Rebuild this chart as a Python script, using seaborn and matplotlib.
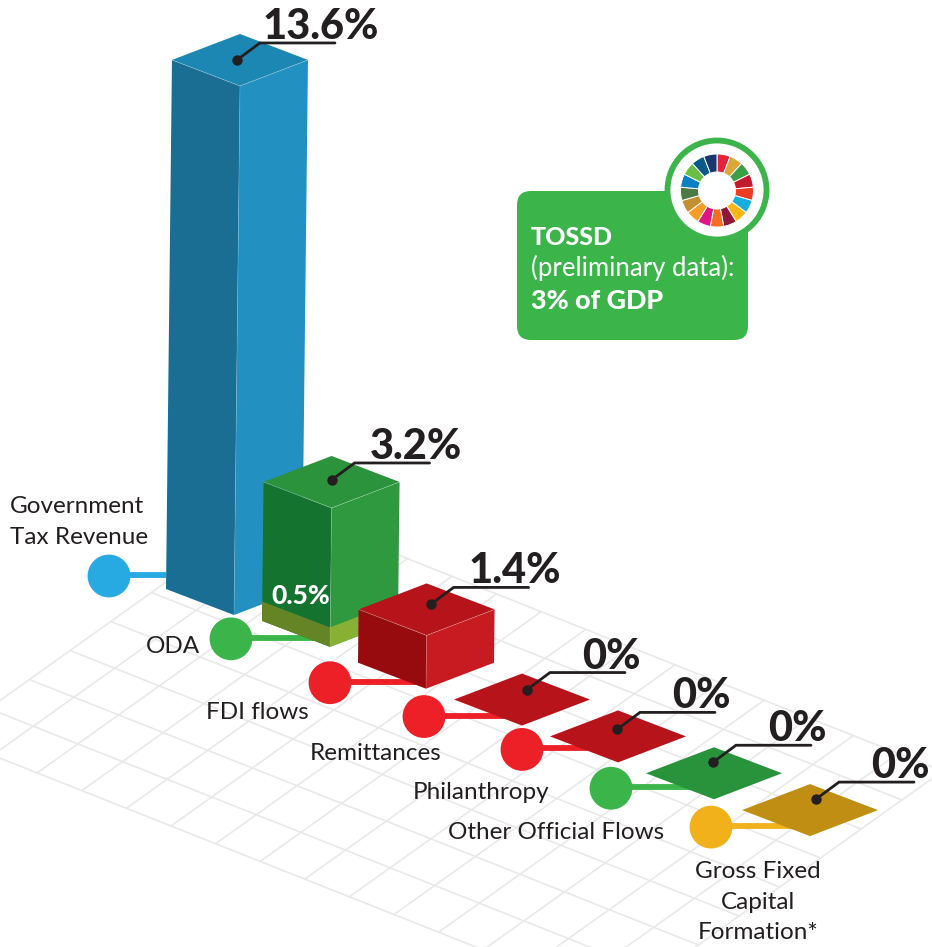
import matplotlib
matplotlib.use("Agg")
import matplotlib.pyplot as plt
import matplotlib.patches as mpatches
import pandas as pd
import seaborn as sns

# values
flows = ["Government Tax Revenue", "ODA", "FDI flows", "Remittances", "Philanthropy",
         "Other Official Flows", "Gross Fixed Capital Formation*"]
label_values = [13.6, 3.2, 1.4, 0, 0, 0, 0]
drawn_heights = [13.6, 3.57, 1.37, 0, 0, 0, 0]  # the green bar is drawn taller than its label
oda_band = 0.5
flow_names = ["Government\nTax Revenue", "ODA", "FDI flows", "Remittances", "Philanthropy",
              "Other Official Flows", "Gross Fixed\nCapital\nFormation*"]
sdg_colors = ["#E5243B", "#DDA63A", "#3A9F45", "#C5192D", "#EF3A26", "#17AEDD", "#FDB714",
              "#8F1838", "#F36D25", "#E11484", "#FD9D24", "#C48F2E", "#4C7A45",
              "#0A7FC2", "#6ABD45", "#0A5A8C", "#19376D"]

# styling
dot_colors = ["#27AAE1", "#3BB54A", "#ED1F27", "#ED1F27", "#ED1F27", "#3BB54A", "#F0B11A"]
top_colors = ["#1D87B4", "#2A933C", "#B7131A", "#B7131A", "#B7131A", "#29933B", "#BF8E12"]
left_colors = ["#1A6D93", "#14732F", "#970B0E"]
right_colors = ["#2291C2", "#2F993F", "#C81A21"]
ink = "#231F20"

# layout, in pixels of the 932x947 picture
px_per_pct = 38.9
half_w, half_d = 68, 26
shear = 0.0113
marker_dx = [-125, -99, -96, -98, -96, -103, -99]
marker_dy = [-39, -8, -6, -9, -13, -11, -9]
conn_end = [166, 325, 420, 505, 600, 700, 800]
pin_dx = [-3, 0, 4, 5, -1, -1, 6]
pin_dy = [0, -2, -5, -10, -7, -11, -11]
name_x = [10, 200, 309, 442, 549, 664, 758]
name_y = [522, 646, 712, 753, 792, 832, 902]
name_ha = ["left", "right", "right", "right", "right", "right", "center"]


def base(i):
    x = 234 + 96 * i
    y = 615 + 36.85 * i
    if i == 1:
        y -= 5
    return x, y


sns.set_theme(style="white")
plt.rcParams["font.family"] = ["Lato", "DejaVu Sans"]

fig = plt.figure(figsize=(9.32, 9.47), dpi=100)
ax = fig.add_axes([0, 0, 1, 1])

# floor grid, 15 x 8 cells
ox, oy = -52, 737.5
ux, uy = 44.6, 17.7
vx, vy = 40.7, -29
rows = []
for j in range(9):
    rows.append({"line": f"a{j}", "x": ox + j * vx, "y": oy + j * vy})
    rows.append({"line": f"a{j}", "x": ox + j * vx + 15 * ux, "y": oy + j * vy + 15 * uy})
for k in range(16):
    rows.append({"line": f"b{k}", "x": ox + k * ux, "y": oy + k * uy})
    rows.append({"line": f"b{k}", "x": ox + k * ux + 8 * vx, "y": oy + k * uy + 8 * vy})
grid = pd.DataFrame(rows)
sns.lineplot(data=grid, x="x", y="y", units="line", estimator=None, sort=False,
             color="#E9E9E9", linewidth=1.2, ax=ax, zorder=1, legend=False)

# connectors and round markers
dots = []
for i, flow in enumerate(flows):
    bx, by = base(i)
    mx, my = bx + marker_dx[i], by + marker_dy[i]
    dots.append({"flow": flow, "x": mx, "y": my})
    ax.plot([mx, conn_end[i]], [my - 1, my - 1], color=dot_colors[i], lw=4.2, zorder=2,
            solid_capstyle="butt")
dots = pd.DataFrame(dots)
sns.scatterplot(data=dots, x="x", y="y", hue="flow", palette=dict(zip(flows, dot_colors)),
                s=950, linewidth=0, legend=False, ax=ax, zorder=40)

# bars and flat tiles
for i, h in enumerate(drawn_heights):
    bx, by = base(i)
    z = 10 + i
    height = h * px_per_pct
    tx, ty = bx + shear * height, by - height
    if h > 0:
        ax.fill([bx, tx, tx - half_w, bx - half_w],
                [by, ty, ty - half_d, by - half_d], color=left_colors[i], lw=0, zorder=z)
        ax.fill([bx, tx, tx + half_w, bx + half_w],
                [by, ty, ty - half_d, by - half_d], color=right_colors[i], lw=0, zorder=z)
    if flows[i] == "ODA":
        band = oda_band * px_per_pct
        ax.fill([bx, bx, bx - half_w, bx - half_w],
                [by, by - band, by - band - half_d, by - half_d], color="#648426", lw=0, zorder=z)
        ax.fill([bx, bx, bx + half_w, bx + half_w],
                [by, by - band, by - band - half_d, by - half_d], color="#87B035", lw=0, zorder=z)
        ax.text(bx - 29, by - 51, f"{oda_band}%", color="white", fontsize=19, fontweight="black",
                ha="center", va="center", zorder=z + 1)
    ax.fill([tx, tx - half_w, tx, tx + half_w],
            [ty, ty - half_d, ty - 2 * half_d, ty - half_d], color=top_colors[i], lw=0, zorder=z)
    if h > 0:
        ax.plot([tx - half_w, tx, tx + half_w], [ty - half_d, ty, ty - half_d],
                color="white", alpha=0.35, lw=0.5, zorder=z)
        ax.plot([tx, bx], [ty, by], color="white", alpha=0.2, lw=0.5, zorder=z)

    # pin, leader and value label
    px, py = tx + pin_dx[i], ty - half_d + pin_dy[i]
    ax.plot([px, px + 23, px + 98], [py, py - 17, py - 17], color=ink, lw=2, zorder=30,
            solid_joinstyle="miter")
    ax.plot([px], [py], "o", color=ink, ms=7.5, mew=0, zorder=31)
    ax.text(px + 84, py - 21, f"{label_values[i]:g}%", color=ink, fontsize=30, fontweight="black",
            ha="center", va="baseline", zorder=32)

# flow names
for i, name in enumerate(flow_names):
    ax.text(name_x[i], name_y[i], name, color=ink, fontsize=17.5, ha=name_ha[i], va="center",
            linespacing=1.55, multialignment="center" if i == 6 else "left", zorder=35)

# TOSSD box with SDG wheel
box = mpatches.FancyBboxPatch((517, 191), 231, 149, boxstyle="round,pad=0,rounding_size=14",
                              fc="#3BB54A", ec="none", zorder=20)
ax.add_patch(box)
ax.add_patch(mpatches.Circle((717, 190), 49.5, fc="white", ec="#3BB54A", lw=4.2, zorder=21))
for i, c in enumerate(sdg_colors):
    t0 = -90 + 360 * i / len(sdg_colors)
    ax.add_patch(mpatches.Wedge((717, 190.5), 36.5, t0, t0 + 360 / len(sdg_colors), width=18,
                                fc=c, ec="white", lw=0.7, zorder=22))
ax.text(531, 237, "TOSSD", color="white", fontsize=18, fontweight="black", va="center", zorder=25)
ax.text(531, 268, "(preliminary data):", color="white", fontsize=18.5, va="center", zorder=25)
ax.text(531, 301, "3% of GDP", color="white", fontsize=19.4, fontweight="black", va="center", zorder=25)

ax.set_xlim(0, 932)
ax.set_ylim(947, 0)
ax.set_axis_off()
fig.savefig("out.png", dpi=100)
